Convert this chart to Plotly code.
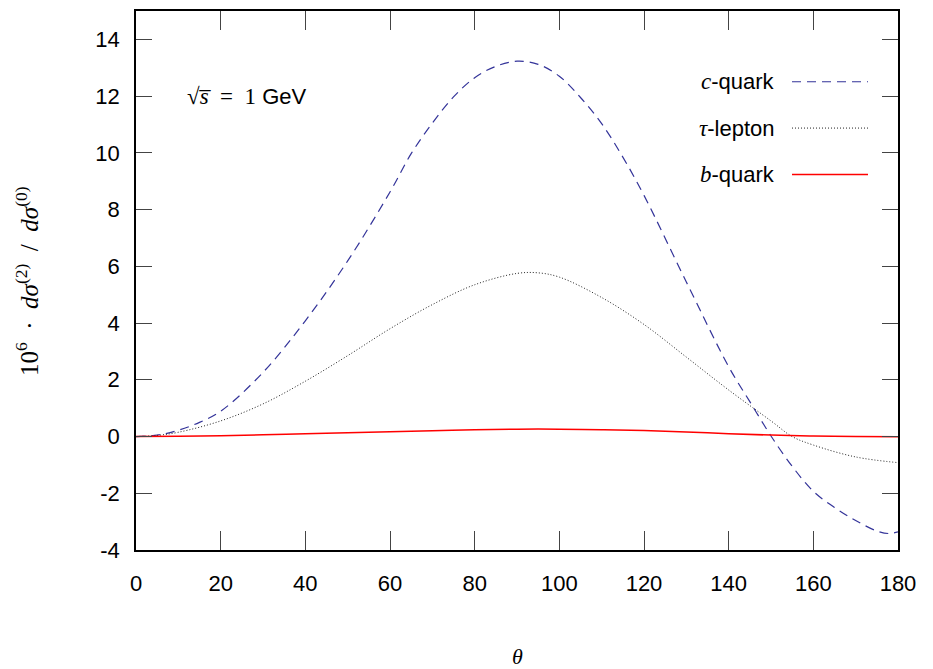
import plotly.graph_objects as go

# ---- data ----
theta_c = [0, 5, 10, 15, 20, 30, 40, 50, 60, 65, 70, 75, 80, 85, 90, 95, 100, 105, 110, 115, 120,
           130, 140, 145, 150, 155, 160, 165, 170, 175, 178, 180]
c_quark = [0, 0.05, 0.22, 0.5, 0.89, 2.26, 4.08, 6.19, 8.62, 9.97, 11.05, 11.97, 12.65, 13.05, 13.23, 13.12,
           12.7, 11.95, 11.03, 9.85, 8.5, 5.45, 2.46, 1.23, 0.02, -1.05, -1.93, -2.5, -2.96, -3.33, -3.42, -3.36]

theta_tau = [0, 5, 10, 20, 30, 40, 50, 60, 70, 80, 90, 95, 100, 110, 120, 130, 140, 150, 155, 160, 170, 180]
tau_lepton = [0, 0.04, 0.15, 0.55, 1.15, 1.95, 2.85, 3.8, 4.65, 5.35, 5.75, 5.77, 5.62, 4.9, 3.95, 2.8,
              1.64, 0.55, 0.0, -0.3, -0.72, -0.92]

theta_b = [0, 10, 20, 30, 40, 50, 60, 70, 80, 90, 100, 110, 120, 130, 140, 150, 160, 170, 180]
b_quark = [0, 0.01, 0.03, 0.06, 0.1, 0.135, 0.17, 0.205, 0.24, 0.26, 0.26, 0.24, 0.21, 0.16, 0.1, 0.05, 0.02, 0.0, -0.01]

x_ticks = [0, 20, 40, 60, 80, 100, 120, 140, 160, 180]
y_ticks = [-4, -2, 0, 2, 4, 6, 8, 10, 12, 14]
y_tick_labels = ["-4", "-2", "0", "2", "4", "6", "8", "10", "12", "14"]

series_names = ["<i>c</i>-quark", "<i>τ</i>-lepton", "<i>b</i>-quark"]

BLUE = "#333399"
RED = "#ff0000"
DOT = "#222222"
SANS = "Liberation Sans, Arial, sans-serif"
SERIF = "Liberation Serif, DejaVu Serif, serif"

fig = go.Figure()
fig.add_trace(go.Scatter(x=theta_c, y=c_quark, mode="lines", line_shape="spline",
                         line=dict(color=BLUE, width=1.2, dash="9px,6px"), showlegend=False))
fig.add_trace(go.Scatter(x=theta_tau, y=tau_lepton, mode="lines", line_shape="spline",
                         line=dict(color=DOT, width=1, dash="1px,2px"), showlegend=False))
fig.add_trace(go.Scatter(x=theta_b, y=b_quark, mode="lines", line_shape="spline",
                         line=dict(color=RED, width=1.5), showlegend=False))

W, H = 933, 669
# page has an 8px body margin; plot area on the page: x 136..898, y 9..550
L, R, T, B = 128, 43, 1, 127
pw, ph = 762, 541

def px(page_x):
    return (page_x - 136) / pw

def py(page_y):
    return (550 - page_y) / ph

axis_common = dict(showgrid=False, zeroline=False, showline=True, linecolor="black", linewidth=1.5,
                   mirror="allticks", ticks="inside", tickcolor="#444444", tickwidth=1.3,
                   tickfont=dict(family=SANS, size=22, color="black"))

fig.update_xaxes(range=[0, 180], tickvals=x_ticks, ticklen=19, ticklabelstandoff=13, **axis_common)
fig.update_yaxes(range=[-4, 15], tickvals=y_ticks, ticktext=y_tick_labels, ticklen=16,
                 ticklabelstandoff=10, **axis_common)

annotations = [
    dict(text="<i>θ</i>", x=px(517), y=py(657), xref="paper", yref="paper", showarrow=False,
         font=dict(family=SERIF, size=22, color="black"), xanchor="center", yanchor="middle"),
    dict(text="10<sup>6</sup>\u2002·\u2002<i>dσ</i><sup>(2)</sup>\u2002/\u2002<i>dσ</i><sup>(0)</sup>",
         x=px(27), y=py(280),
         xref="paper", yref="paper", showarrow=False, textangle=-90,
         font=dict(family=SERIF, size=25, color="black"), xanchor="center", yanchor="middle"),
    dict(text="<span style='font-family:Liberation Serif;font-size:23px'>√<i>s̅</i>\u2002=\u20021</span> GeV",
         x=px(185), y=py(95), xref="paper", yref="paper", showarrow=False,
         font=dict(family=SANS, size=22, color="black"), xanchor="left", yanchor="middle"),
]
legend_rows = [80, 126.5, 173]
legend_styles = [dict(color=BLUE, width=1.2, dash="9px,6px"),
                 dict(color=DOT, width=1, dash="1px,2px"),
                 dict(color=RED, width=1.5)]
shapes = []
for name, yr, st in zip(series_names, legend_rows, legend_styles):
    label = name.replace("<i>", "<span style='font-family:Liberation Serif;font-size:23px'><i>").replace("</i>", "</i></span>")
    annotations.append(dict(text=label, x=px(777), y=py(yr), xref="paper", yref="paper", showarrow=False,
                            font=dict(family=SANS, size=22, color="black"), xanchor="right", yanchor="middle"))
    shapes.append(dict(type="line", xref="paper", yref="paper", x0=px(792), x1=px(868), y0=py(yr), y1=py(yr),
                       line=st))

fig.update_layout(width=W, height=H, margin=dict(l=L, r=R, t=T, b=B),
                  plot_bgcolor="white", paper_bgcolor="white",
                  annotations=annotations, shapes=shapes, showlegend=False)

fig.write_html("out.html")
